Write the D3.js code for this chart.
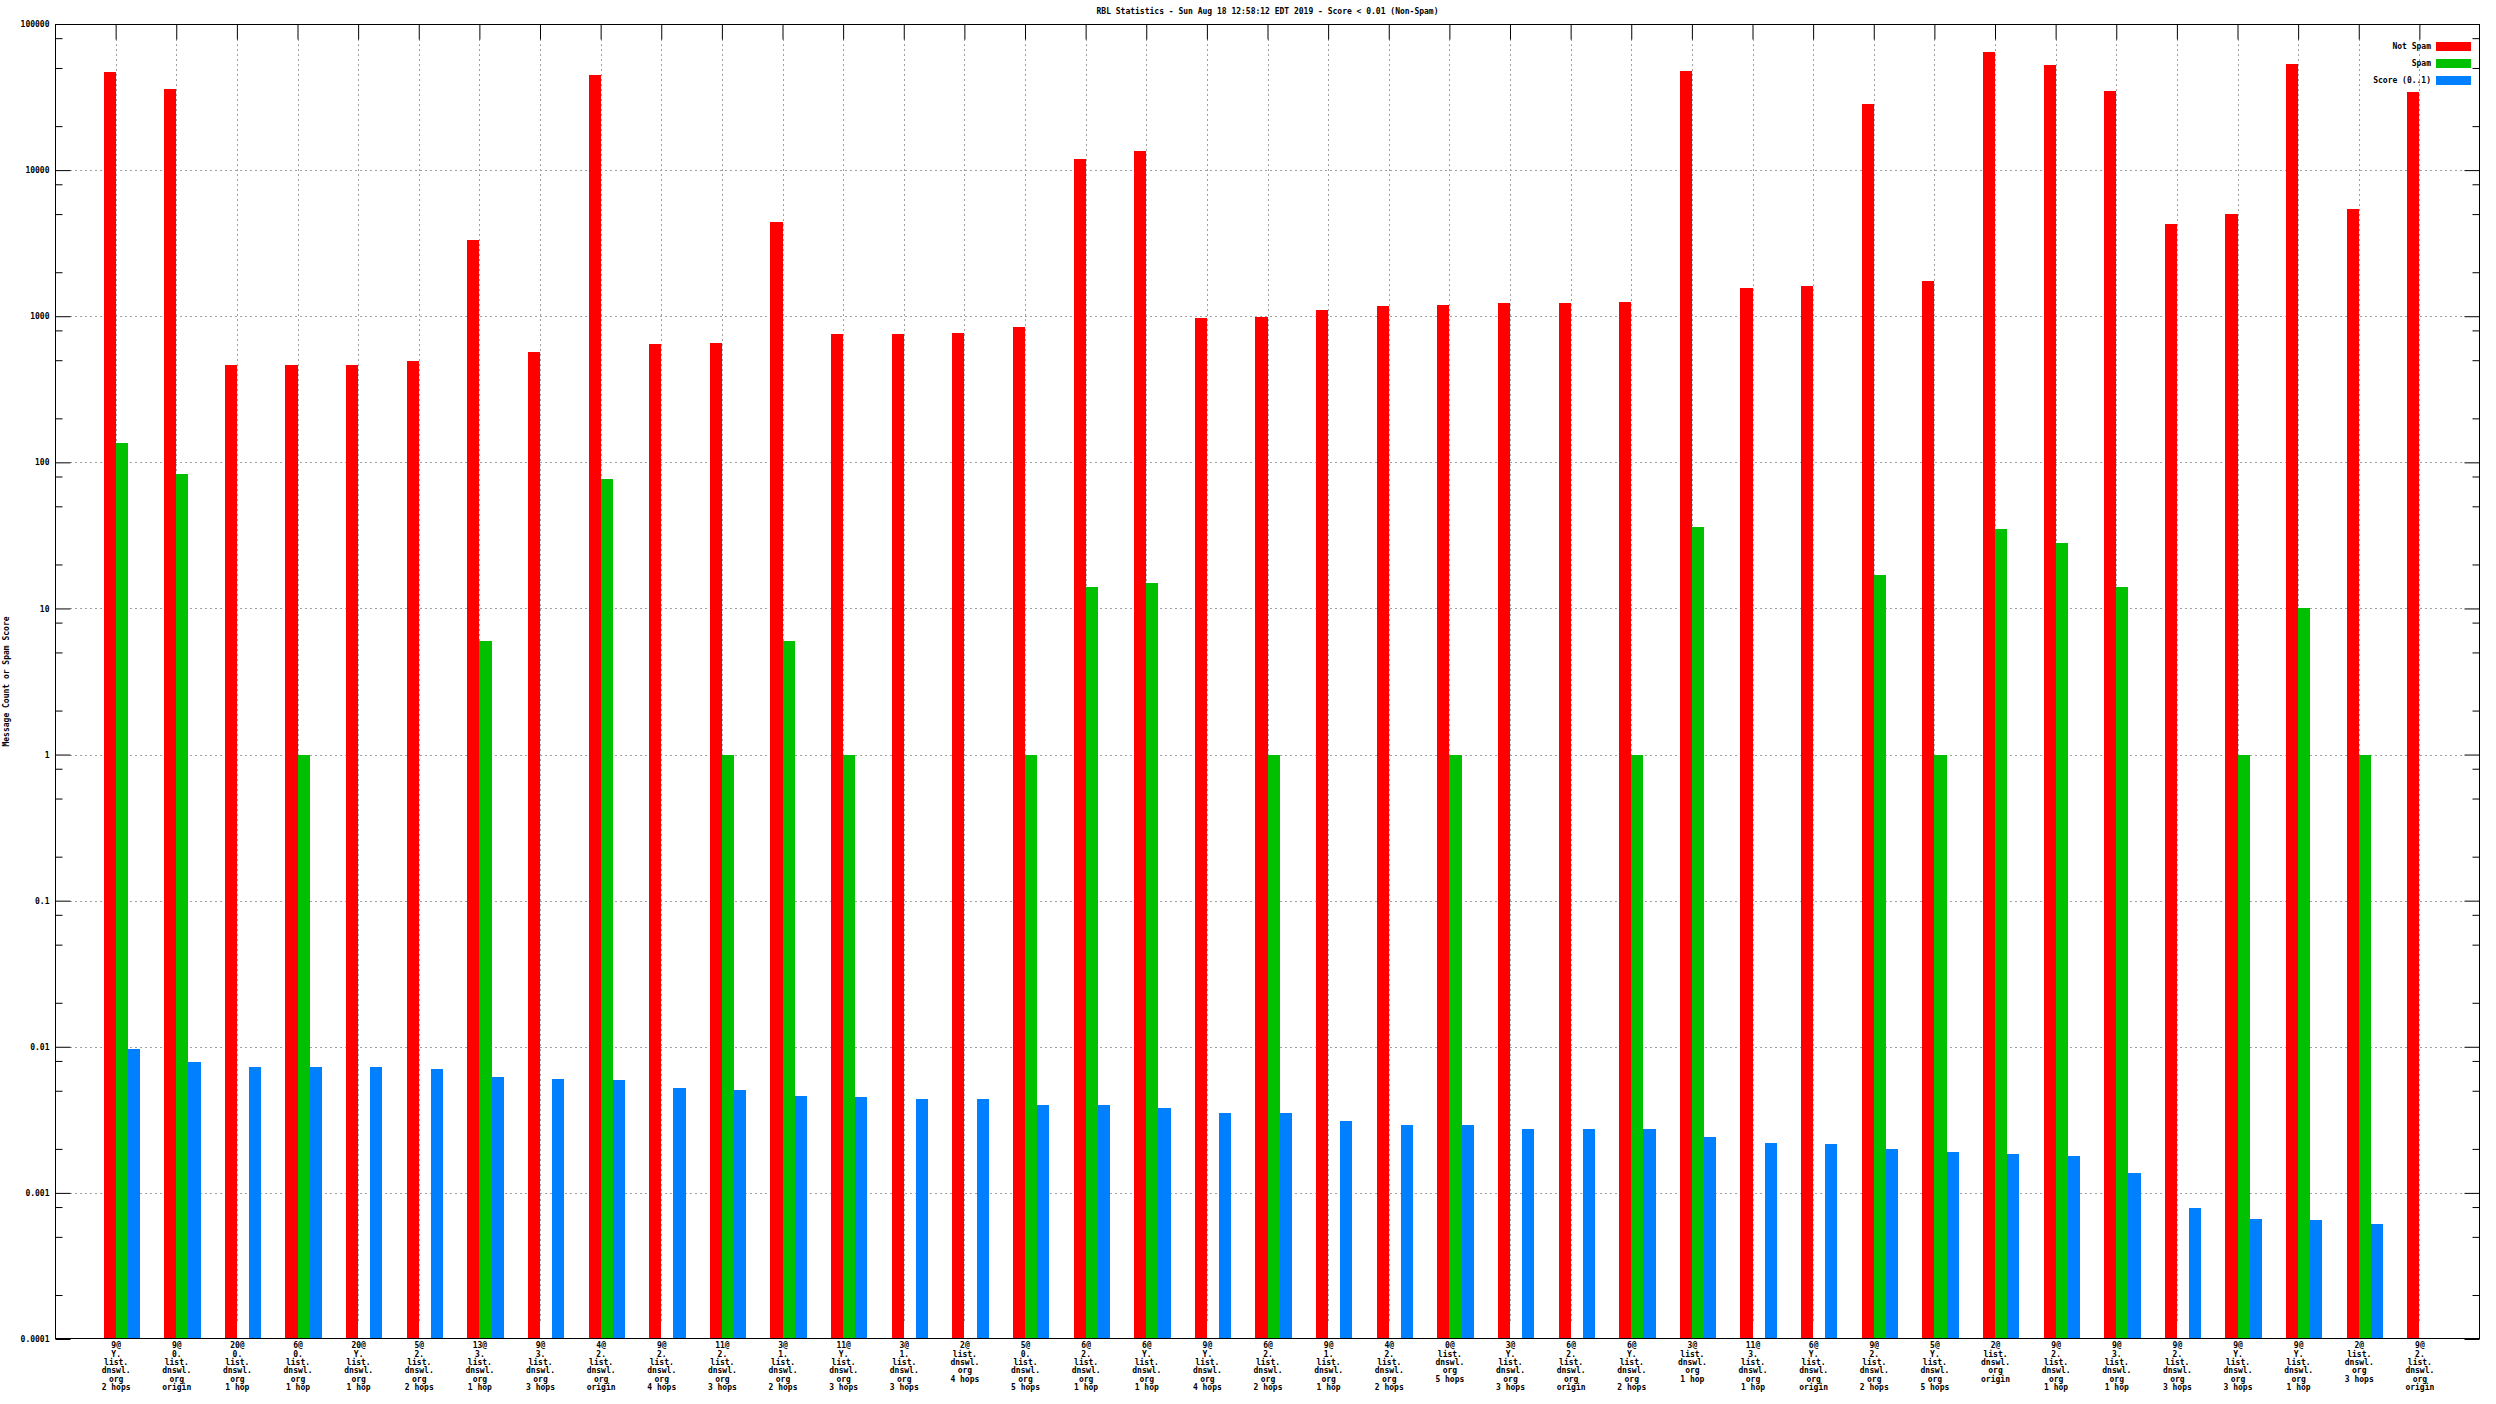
<!DOCTYPE html>
<html>
<head>
<meta charset="utf-8">
<script src="https://cdn.jsdelivr.net/npm/d3@7/dist/d3.min.js"></script>
<style>
  html, body { margin: 0; padding: 0; background: #fff; }
  svg { display: block; }
  text { font-family: "DejaVu Sans Mono", monospace; font-size: 8px; font-weight: bold; fill: #000; }
</style>
</head>
<body>
<svg id="chart" width="2496" height="1404"></svg>
<script>
const titleText = "RBL Statistics - Sun Aug 18 12:58:12 EDT 2019 - Score < 0.01 (Non-Spam)";
const yAxisTitle = "Message Count or Spam Score";
const seriesNames = ["Not Spam", "Spam", "Score (0..1)"];
const seriesColors = ["#ff0000", "#00c000", "#0080ff"];

const categories = [
  "9@\nY.\nlist.\ndnswl.\norg\n2 hops",
  "9@\n0.\nlist.\ndnswl.\norg\norigin",
  "20@\n0.\nlist.\ndnswl.\norg\n1 hop",
  "6@\n0.\nlist.\ndnswl.\norg\n1 hop",
  "20@\nY.\nlist.\ndnswl.\norg\n1 hop",
  "5@\n2.\nlist.\ndnswl.\norg\n2 hops",
  "13@\n3.\nlist.\ndnswl.\norg\n1 hop",
  "9@\n3.\nlist.\ndnswl.\norg\n3 hops",
  "4@\n2.\nlist.\ndnswl.\norg\norigin",
  "9@\n2.\nlist.\ndnswl.\norg\n4 hops",
  "11@\n2.\nlist.\ndnswl.\norg\n3 hops",
  "3@\n1.\nlist.\ndnswl.\norg\n2 hops",
  "11@\nY.\nlist.\ndnswl.\norg\n3 hops",
  "3@\n1.\nlist.\ndnswl.\norg\n3 hops",
  "2@\nlist.\ndnswl.\norg\n4 hops",
  "5@\n0.\nlist.\ndnswl.\norg\n5 hops",
  "6@\n2.\nlist.\ndnswl.\norg\n1 hop",
  "6@\nY.\nlist.\ndnswl.\norg\n1 hop",
  "9@\nY.\nlist.\ndnswl.\norg\n4 hops",
  "6@\n2.\nlist.\ndnswl.\norg\n2 hops",
  "9@\n1.\nlist.\ndnswl.\norg\n1 hop",
  "4@\n2.\nlist.\ndnswl.\norg\n2 hops",
  "0@\nlist.\ndnswl.\norg\n5 hops",
  "3@\nY.\nlist.\ndnswl.\norg\n3 hops",
  "6@\n2.\nlist.\ndnswl.\norg\norigin",
  "6@\nY.\nlist.\ndnswl.\norg\n2 hops",
  "3@\nlist.\ndnswl.\norg\n1 hop",
  "11@\n3.\nlist.\ndnswl.\norg\n1 hop",
  "6@\nY.\nlist.\ndnswl.\norg\norigin",
  "9@\n2.\nlist.\ndnswl.\norg\n2 hops",
  "5@\nY.\nlist.\ndnswl.\norg\n5 hops",
  "2@\nlist.\ndnswl.\norg\norigin",
  "9@\n2.\nlist.\ndnswl.\norg\n1 hop",
  "9@\n3.\nlist.\ndnswl.\norg\n1 hop",
  "9@\n2.\nlist.\ndnswl.\norg\n3 hops",
  "9@\nY.\nlist.\ndnswl.\norg\n3 hops",
  "9@\nY.\nlist.\ndnswl.\norg\n1 hop",
  "2@\nlist.\ndnswl.\norg\n3 hops",
  "9@\n2.\nlist.\ndnswl.\norg\norigin"
];

const notSpam = [47000, 36000, 460, 460, 460, 490, 3300, 570, 45000, 650,
  660, 4400, 750, 760, 770, 840, 12000, 13500, 970, 990,
  1100, 1180, 1200, 1230, 1240, 1260, 48000, 1550, 1600, 28500,
  1750, 64000, 52000, 35000, 4300, 5000, 53000, 5400, 34000];

const spam = [135, 83, null, 1, null, null, 6, null, 77, null,
  1, 6, 1, null, null, 1, 14, 15, null, 1,
  null, null, 1, null, null, 1, 36, null, null, 17,
  1, 35, 28, 14, null, 1, 10, 1, null];

const score = [0.0097, 0.0079, 0.0073, 0.0073, 0.0073, 0.0070, 0.0062, 0.0060, 0.0059, 0.0052,
  0.0051, 0.0046, 0.0045, 0.0044, 0.0044, 0.0040, 0.0040, 0.0038, 0.0035, 0.0035,
  0.0031, 0.0029, 0.0029, 0.00275, 0.00275, 0.00275, 0.0024, 0.0022, 0.00215, 0.0020,
  0.0019, 0.00185, 0.0018, 0.00136, 0.00079, 0.00066, 0.00065, 0.00061, null];

const yMajorTicks = [1e-4, 1e-3, 1e-2, 1e-1, 1, 10, 100, 1000, 10000, 100000];
const yTickLabels = ["0.0001", "0.001", "0.01", "0.1", "1", "10", "100", "1000", "10000", "100000"];
const yMinorMultipliers = [2, 5, 8];

// ---- layout ----
const W = 2496, H = 1404;
const L = 55, R = 2480, T = 24, B = 1339;
const svg = d3.select("#chart");
svg.append("rect").attr("width", W).attr("height", H).attr("fill", "#fff");

const x = d3.scaleLinear().domain([0, categories.length + 1]).range([L, R]);
const y = d3.scaleLog().domain([1e-4, 1e5]).range([B, T]);
const step = x(1) - x(0);
const bw = step / 5;
const idx = d3.range(1, categories.length + 1);

const yMinor = [];
yMajorTicks.slice(0, -1).forEach(d => yMinorMultipliers.forEach(m => yMinor.push(d * m)));

// grid
const grid = svg.append("g").attr("stroke", "#a0a0a0").attr("stroke-width", 1).attr("stroke-dasharray", "2,3");
grid.selectAll("line.h").data(yMajorTicks.slice(1, -1)).join("line")
  .attr("x1", L + 15).attr("x2", R - 15)
  .attr("y1", d => Math.round(y(d)) + 0.5).attr("y2", d => Math.round(y(d)) + 0.5);
grid.selectAll("line.v").data(idx).join("line")
  .attr("x1", d => Math.round(x(d)) + 0.5).attr("x2", d => Math.round(x(d)) + 0.5)
  .attr("y1", T + 15).attr("y2", B - 15);

// bars
const series = [notSpam, spam, score];
series.forEach((vals, s) => {
  svg.append("g").selectAll("rect").data(vals.map((v, i) => ({ v, i: i + 1 })).filter(d => d.v != null))
    .join("rect")
    .attr("x", d => Math.round(x(d.i) + (s - 1) * bw))
    .attr("width", d => Math.round(x(d.i) + s * bw) - Math.round(x(d.i) + (s - 1) * bw))
    .attr("y", d => Math.round(y(d.v)))
    .attr("height", d => B - Math.round(y(d.v)))
    .attr("fill", seriesColors[s]);
});

// axes
function styleAxis(g) {
  g.select(".domain").remove();
  g.selectAll(".tick line").attr("stroke", "#000").attr("stroke-width", 1);
  g.selectAll("text").style("font-family", '"DejaVu Sans Mono", monospace').style("font-size", "8px")
    .style("font-weight", "bold").attr("fill", "#000");
}
const fmt = d => yTickLabels[yMajorTicks.indexOf(d)];

svg.append("g").attr("transform", `translate(${L + 0.5},0)`)
  .call(d3.axisLeft(y).tickValues(yMajorTicks).tickFormat(fmt).tickSize(-15).tickPadding(6))
  .call(styleAxis);
svg.append("g").attr("transform", `translate(${L + 0.5},0)`)
  .call(d3.axisLeft(y).tickValues(yMinor).tickFormat("").tickSize(-7))
  .call(styleAxis);
svg.append("g").attr("transform", `translate(${R - 0.5},0)`)
  .call(d3.axisRight(y).tickValues(yMajorTicks).tickFormat("").tickSize(-15))
  .call(styleAxis);
svg.append("g").attr("transform", `translate(${R - 0.5},0)`)
  .call(d3.axisRight(y).tickValues(yMinor).tickFormat("").tickSize(-7))
  .call(styleAxis);
svg.append("g").attr("transform", `translate(0,${T + 0.5})`)
  .call(d3.axisTop(x).tickValues(idx).tickFormat("").tickSize(-15))
  .call(styleAxis);

const xb = svg.append("g").attr("transform", `translate(0,${B - 0.5})`)
  .call(d3.axisBottom(x).tickValues(idx).tickFormat(d => categories[d - 1]).tickSize(-15).tickPadding(4))
  .call(styleAxis);
xb.selectAll(".tick line").remove();
xb.selectAll(".tick text").each(function (d) {
  const t = d3.select(this);
  const lines = categories[d - 1].split("\n");
  t.text(null);
  lines.forEach((ln, k) => {
    t.append("tspan").attr("x", 0).attr("dy", k === 0 ? "0.71em" : "1.05em").text(ln);
  });
});

// border
svg.append("rect").attr("x", L + 0.5).attr("y", T + 0.5).attr("width", R - L - 1).attr("height", B - T - 1)
  .attr("fill", "none").attr("stroke", "#000").attr("stroke-width", 1);

// title
svg.append("text").attr("x", (L + R) / 2).attr("y", 14).attr("text-anchor", "middle").text(titleText);

// y axis title
svg.append("text").attr("transform", `translate(9,${(T + B) / 2}) rotate(-90)`)
  .attr("text-anchor", "middle").text(yAxisTitle);

// legend
const leg = svg.append("g");
seriesNames.forEach((name, s) => {
  const cy = 46.5 + s * 17;
  leg.append("text").attr("x", 2431).attr("y", cy).attr("dy", "0.35em").attr("text-anchor", "end").text(name);
  leg.append("rect").attr("x", 2436).attr("y", cy - 4.5).attr("width", 35).attr("height", 9).attr("fill", seriesColors[s]);
});
</script>
</body>
</html>
